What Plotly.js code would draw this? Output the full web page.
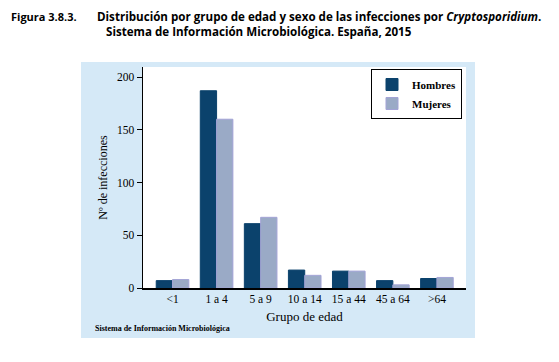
<!DOCTYPE html>
<html><head><meta charset="utf-8">
<script src="https://cdn.plot.ly/plotly-3.0.1.min.js"></script>
<style>html,body{margin:0;padding:0;background:#fff}#chart{width:559px;height:362px}</style>
</head><body><div id="chart"></div>
<script>
const categories = ["<1", "1 a 4", "5 a 9", "10 a 14", "15 a 44", "45 a 64", ">64"];
const hombres = [7, 187, 61, 17, 16, 7, 9];
const mujeres = [8, 160, 67, 12, 16, 3, 10];
const yTicks = [0, 50, 100, 150, 200];

const serif = "Liberation Serif, Times New Roman, serif";
const sans = "Open Sans, DejaVu Sans, sans-serif";

const traces = [
  {type: "bar", name: "Hombres", x: categories, y: hombres,
   marker: {color: "#0b426c", line: {color: "#0b426c", width: 1}}},
  {type: "bar", name: "Mujeres", x: categories, y: mujeres,
   marker: {color: "#9aaac6", line: {color: "#a3a3d6", width: 1}}}
];

const L = 143, R = 466, T = 67, B = 288, W = 559, H = 362;
const px = v => (v - L) / (R - L);
const py = v => (B - v) / (B - T);

const layout = {
  width: W, height: H,
  margin: {l: L, r: W - R, t: T, b: H - B, pad: 0},
  paper_bgcolor: "#ffffff", plot_bgcolor: "rgba(0,0,0,0)",
  barmode: "group", bargap: 0.26, bargroupgap: 0,
  showlegend: true,
  legend: {x: px(462), y: py(69), xanchor: "right", yanchor: "top",
           bgcolor: "#ffffff", bordercolor: "#000000", borderwidth: 1,
           font: {family: serif, size: 11, color: "#000", weight: "bold"},
           tracegroupgap: 0, itemwidth: 30},
  xaxis: {range: [-0.67, 6.66], showline: true, linecolor: "#000", linewidth: 1.5,
          ticks: "", showgrid: false, zeroline: false, fixedrange: true,
          tickfont: {family: serif, size: 11.5, color: "#000"},
          title: {text: "Grupo de edad", font: {family: serif, size: 13, color: "#000"}, standoff: 7}},
  yaxis: {range: [0, 209.5], showline: true, linecolor: "#000", linewidth: 1.5,
          ticks: "outside", ticklen: 5, tickwidth: 1, tickcolor: "#000",
          tickvals: yTicks, ticktext: yTicks.map(String),
          showgrid: false, zeroline: false, fixedrange: true,
          tickfont: {family: serif, size: 11.5, color: "#000"},
          title: {text: "Nº de infecciones", font: {family: serif, size: 12, color: "#000"}, standoff: 7}},
  shapes: [
    {type: "rect", layer: "below", xref: "paper", yref: "paper",
     x0: px(81), x1: px(475), y0: py(338), y1: py(62),
     fillcolor: "#d5e9f7", line: {width: 0}},
    {type: "rect", layer: "below", xref: "paper", yref: "paper",
     x0: 0, x1: 1, y0: 0, y1: 1, fillcolor: "#ffffff", line: {width: 0}}
  ],
  annotations: [
    {text: "<b>Figura 3.8.3.</b>", xref: "paper", yref: "paper", x: px(9), y: py(16.5),
     xanchor: "left", yanchor: "middle", showarrow: false,
     font: {family: sans, size: 11, color: "#000"}},
    {text: "<b>Distribución por grupo de edad y sexo de las infecciones por <i>Cryptosporidium</i>.</b>",
     xref: "paper", yref: "paper", x: px(95), y: py(16.5),
     xanchor: "left", yanchor: "middle", showarrow: false,
     font: {family: sans, size: 11.6, color: "#000"}},
    {text: "<b>Sistema de Información Microbiológica. España, 2015</b>",
     xref: "paper", yref: "paper", x: px(259), y: py(31.5),
     xanchor: "center", yanchor: "middle", showarrow: false,
     font: {family: sans, size: 11.6, color: "#000"}},
    {text: "<b>Sistema de Información Microbiológica</b>",
     xref: "paper", yref: "paper", x: px(93), y: py(328),
     xanchor: "left", yanchor: "middle", showarrow: false,
     font: {family: serif, size: 8, color: "#000"}}
  ]
};

Plotly.newPlot("chart", traces, layout, {displayModeBar: false, staticPlot: true});
</script></body></html>
